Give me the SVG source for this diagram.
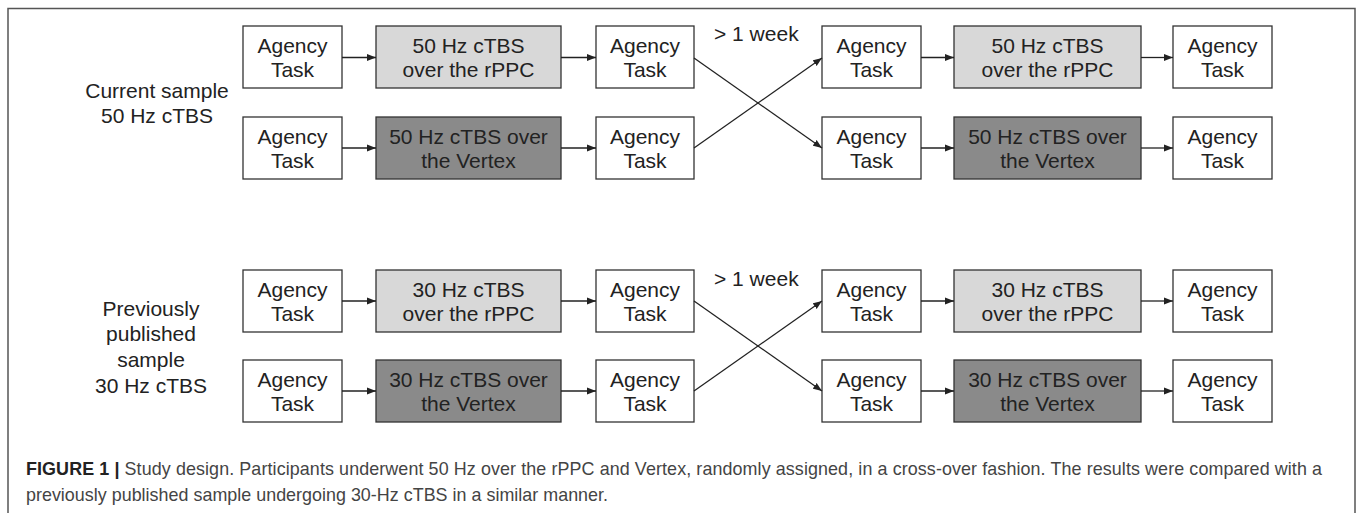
<svg xmlns="http://www.w3.org/2000/svg" width="1358" height="513" viewBox="0 0 1358 513">
<style>
.bg{fill:#ffffff}
.frame{fill:none;stroke:#555555;stroke-width:1.5}
.box{stroke:#333333;stroke-width:1.3}
.w{fill:#ffffff}
.lg{fill:#d8d8d8}
.dg{fill:#8a8a8a}
.t{font-family:"Liberation Sans",Arial,sans-serif;font-size:21px;fill:#222222;text-anchor:middle}
.lbl{font-family:"Liberation Sans",Arial,sans-serif;font-size:21px;fill:#222222;text-anchor:middle}
.wk{font-family:"Liberation Sans",Arial,sans-serif;font-size:21px;fill:#222222}
.cap{font-family:"Liberation Sans",Arial,sans-serif;font-size:17.9px;fill:#444444}
.capb{font-weight:bold;fill:#222222}
.conn{stroke:#222222;stroke-width:1.3;fill:none;marker-end:url(#ah)}
</style>
<defs>
<marker id="ah" markerUnits="userSpaceOnUse" markerWidth="9" markerHeight="8" refX="9" refY="4" orient="auto">
<path d="M0,0.5 L9,4 L0,7.5 z" fill="#222222"/>
</marker>
</defs>
<rect class="bg" x="0" y="0" width="1358" height="513"/>
<rect class="frame" x="8" y="8.5" width="1347" height="520"/>

<!-- Top section -->
<text class="lbl" x="157" y="98">Current sample</text>
<text class="lbl" x="157" y="123">50 Hz cTBS</text>

<g id="a1"><rect class="box w" x="243" y="26" width="99" height="62"/><text class="t" x="292.5" y="53">Agency</text><text class="t" x="292.5" y="77">Task</text></g>
<g id="s1"><rect class="box lg" x="376" y="26" width="185" height="62"/><text class="t" x="468.5" y="53">50 Hz cTBS</text><text class="t" x="468.5" y="77">over the rPPC</text></g>
<g id="a2"><rect class="box w" x="596" y="26" width="98" height="62"/><text class="t" x="645" y="53">Agency</text><text class="t" x="645" y="77">Task</text></g>
<g id="a3"><rect class="box w" x="822" y="26" width="99" height="62"/><text class="t" x="871.5" y="53">Agency</text><text class="t" x="871.5" y="77">Task</text></g>
<g id="s2"><rect class="box lg" x="954" y="26" width="187" height="62"/><text class="t" x="1047.5" y="53">50 Hz cTBS</text><text class="t" x="1047.5" y="77">over the rPPC</text></g>
<g id="a4"><rect class="box w" x="1173" y="26" width="99" height="62"/><text class="t" x="1222.5" y="53">Agency</text><text class="t" x="1222.5" y="77">Task</text></g>

<g id="a5"><rect class="box w" x="243" y="117" width="99" height="62"/><text class="t" x="292.5" y="144">Agency</text><text class="t" x="292.5" y="168">Task</text></g>
<g id="s3"><rect class="box dg" x="376" y="117" width="185" height="62"/><text class="t" x="468.5" y="144">50 Hz cTBS over</text><text class="t" x="468.5" y="168">the Vertex</text></g>
<g id="a6"><rect class="box w" x="596" y="117" width="98" height="62"/><text class="t" x="645" y="144">Agency</text><text class="t" x="645" y="168">Task</text></g>
<g id="a7"><rect class="box w" x="822" y="117" width="99" height="62"/><text class="t" x="871.5" y="144">Agency</text><text class="t" x="871.5" y="168">Task</text></g>
<g id="s4"><rect class="box dg" x="954" y="117" width="187" height="62"/><text class="t" x="1047.5" y="144">50 Hz cTBS over</text><text class="t" x="1047.5" y="168">the Vertex</text></g>
<g id="a8"><rect class="box w" x="1173" y="117" width="99" height="62"/><text class="t" x="1222.5" y="144">Agency</text><text class="t" x="1222.5" y="168">Task</text></g>

<text class="wk" x="714" y="41">&gt; 1 week</text>

<!-- Bottom section -->
<text class="lbl" x="151" y="316">Previously</text>
<text class="lbl" x="151" y="341">published</text>
<text class="lbl" x="151" y="367">sample</text>
<text class="lbl" x="151" y="393">30 Hz cTBS</text>

<g id="b1"><rect class="box w" x="243" y="270" width="99" height="62"/><text class="t" x="292.5" y="297">Agency</text><text class="t" x="292.5" y="321">Task</text></g>
<g id="t1"><rect class="box lg" x="376" y="270" width="185" height="62"/><text class="t" x="468.5" y="297">30 Hz cTBS</text><text class="t" x="468.5" y="321">over the rPPC</text></g>
<g id="b2"><rect class="box w" x="596" y="270" width="98" height="62"/><text class="t" x="645" y="297">Agency</text><text class="t" x="645" y="321">Task</text></g>
<g id="b3"><rect class="box w" x="822" y="270" width="99" height="62"/><text class="t" x="871.5" y="297">Agency</text><text class="t" x="871.5" y="321">Task</text></g>
<g id="t2"><rect class="box lg" x="954" y="270" width="187" height="62"/><text class="t" x="1047.5" y="297">30 Hz cTBS</text><text class="t" x="1047.5" y="321">over the rPPC</text></g>
<g id="b4"><rect class="box w" x="1173" y="270" width="99" height="62"/><text class="t" x="1222.5" y="297">Agency</text><text class="t" x="1222.5" y="321">Task</text></g>

<g id="b5"><rect class="box w" x="243" y="360" width="99" height="62"/><text class="t" x="292.5" y="387">Agency</text><text class="t" x="292.5" y="411">Task</text></g>
<g id="t3"><rect class="box dg" x="376" y="360" width="185" height="62"/><text class="t" x="468.5" y="387">30 Hz cTBS over</text><text class="t" x="468.5" y="411">the Vertex</text></g>
<g id="b6"><rect class="box w" x="596" y="360" width="98" height="62"/><text class="t" x="645" y="387">Agency</text><text class="t" x="645" y="411">Task</text></g>
<g id="b7"><rect class="box w" x="822" y="360" width="99" height="62"/><text class="t" x="871.5" y="387">Agency</text><text class="t" x="871.5" y="411">Task</text></g>
<g id="t4"><rect class="box dg" x="954" y="360" width="187" height="62"/><text class="t" x="1047.5" y="387">30 Hz cTBS over</text><text class="t" x="1047.5" y="411">the Vertex</text></g>
<g id="b8"><rect class="box w" x="1173" y="360" width="99" height="62"/><text class="t" x="1222.5" y="387">Agency</text><text class="t" x="1222.5" y="411">Task</text></g>

<text class="wk" x="714" y="286">&gt; 1 week</text>

<g id="connectors">
<line class="conn" x1="342" y1="57.5" x2="376" y2="57.5"/>
<line class="conn" x1="561" y1="57.5" x2="596" y2="57.5"/>
<line class="conn" x1="921" y1="57.5" x2="954" y2="57.5"/>
<line class="conn" x1="1141" y1="57.5" x2="1173" y2="57.5"/>
<line class="conn" x1="342" y1="148" x2="376" y2="148"/>
<line class="conn" x1="561" y1="148" x2="596" y2="148"/>
<line class="conn" x1="921" y1="148" x2="954" y2="148"/>
<line class="conn" x1="1141" y1="148" x2="1173" y2="148"/>
<line class="conn" x1="694" y1="58" x2="822" y2="148"/>
<line class="conn" x1="694" y1="148" x2="822" y2="58"/>

<line class="conn" x1="342" y1="301" x2="376" y2="301"/>
<line class="conn" x1="561" y1="301" x2="596" y2="301"/>
<line class="conn" x1="921" y1="301" x2="954" y2="301"/>
<line class="conn" x1="1141" y1="301" x2="1173" y2="301"/>
<line class="conn" x1="342" y1="391" x2="376" y2="391"/>
<line class="conn" x1="561" y1="391" x2="596" y2="391"/>
<line class="conn" x1="921" y1="391" x2="954" y2="391"/>
<line class="conn" x1="1141" y1="391" x2="1173" y2="391"/>
<line class="conn" x1="694" y1="301" x2="822" y2="391"/>
<line class="conn" x1="694" y1="391" x2="822" y2="301"/>
</g>

<text class="cap" x="26" y="475" textLength="1296" lengthAdjust="spacing"><tspan class="capb">FIGURE 1 |</tspan> Study design. Participants underwent 50 Hz over the rPPC and Vertex, randomly assigned, in a cross-over fashion. The results were compared with a</text>
<text class="cap" x="26" y="501" textLength="582" lengthAdjust="spacing">previously published sample undergoing 30-Hz cTBS in a similar manner.</text>
</svg>
